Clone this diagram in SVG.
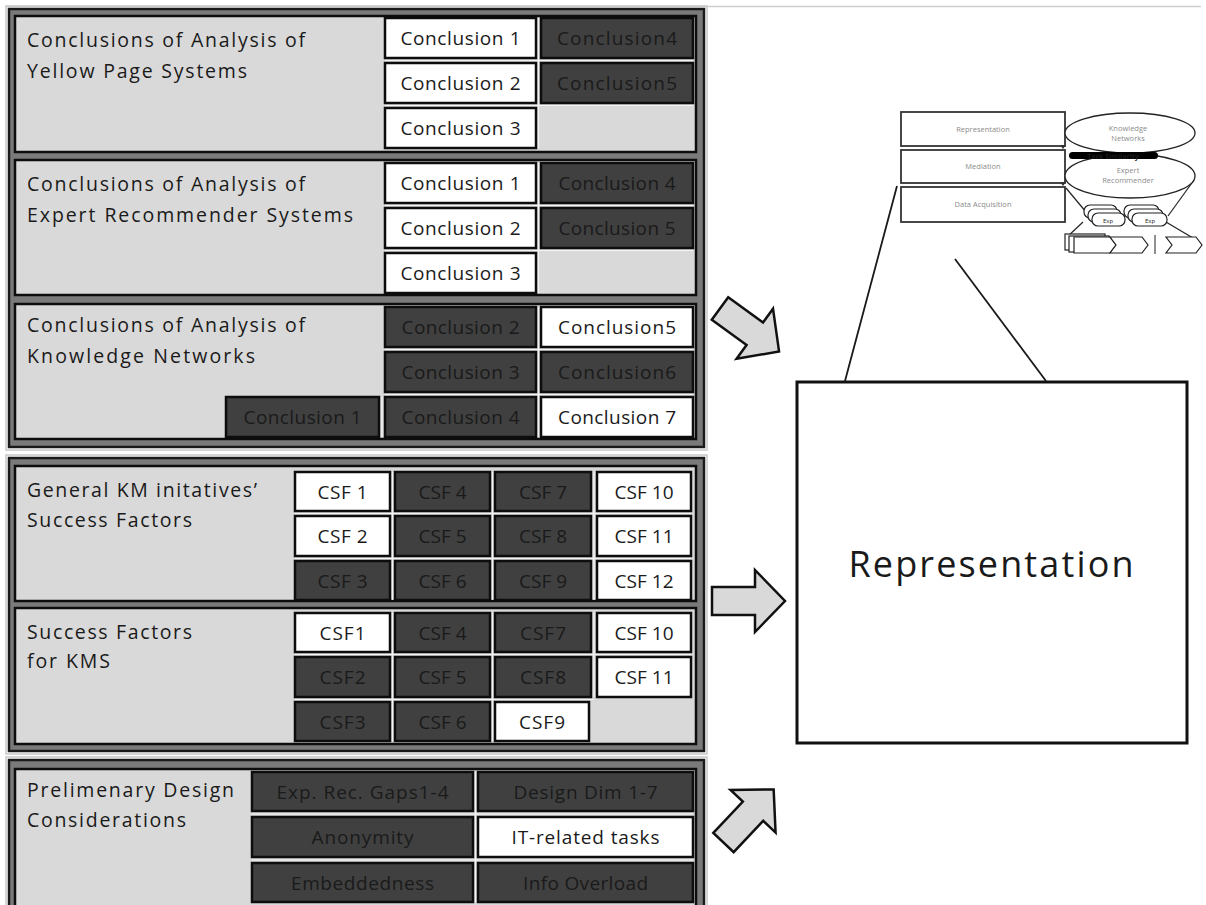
<svg xmlns="http://www.w3.org/2000/svg" width="1206" height="905" viewBox="0 0 1206 905">
  <style>
    .halo { fill: none; stroke: #c8c8c8; stroke-width: 1.5; }
    .frame { fill: #7a7a7a; stroke: #1a1a1a; stroke-width: 2.5; }
    .panel { fill: #d9d9d9; stroke: #0d0d0d; stroke-width: 2.5; }
    .grid { stroke: #f4f4f4; stroke-width: 1.2; fill: none; }
    .w { fill: #ffffff; stroke: #0d0d0d; stroke-width: 2.5; }
    .d { fill: #404040; stroke: #0d0d0d; stroke-width: 2.5; }
    text { font-family: "Open Sans", "Noto Sans", "Liberation Sans", sans-serif; fill: #1a1a1a; font-variant-ligatures: none; }
    .ttl { font-size: 19.5px; }
    .bx { font-size: 19px; text-anchor: middle; }
    .big { font-size: 36px; text-anchor: middle; fill: #1a1a1a; }
    .arrow { fill: #d9d9d9; stroke: #111111; stroke-width: 2.5; stroke-linejoin: miter; }
    .tb { fill: #ffffff; stroke: #333333; stroke-width: 1.8; }
    .tt { font-size: 7.5px; text-anchor: middle; fill: #8c8c8c; }
    .el { fill: #ffffff; stroke: #222222; stroke-width: 1.3; }
    .thin { stroke: #222222; stroke-width: 1.2; fill: none; }
    .lead { stroke: #1a1a1a; stroke-width: 1.8; fill: none; }
  </style>
  <defs>
    <path id="blockArrow" d="M0,-14 H43 V-31 L73,0 L43,31 V14 H0 Z"/>
  </defs>

  <!-- hairline along the top edge -->
  <line x1="6" y1="6.5" x2="1201" y2="6.5" stroke="#d0d0d0" stroke-width="1.5"/>

  <!-- ============ Frame 1: conclusions of the three analyses ============ -->
  <g id="frame-conclusions">
    <rect class="halo" x="6" y="6" width="701" height="444"/>
    <rect class="frame" x="9" y="9" width="695" height="438"/>
  </g>

  <g id="yellow-pages">
    <rect class="panel" x="15" y="16" width="681" height="136"/>
    <path class="grid" d="M538.5,18 V148 M385,60.5 H693 M385,105.5 H693"/>
    <text class="ttl" x="27" y="47" textLength="278" lengthAdjust="spacing">Conclusions of Analysis of</text>
    <text class="ttl" x="27" y="78" textLength="220" lengthAdjust="spacing">Yellow Page Systems</text>
    <rect class="w" x="385" y="18" width="151" height="40"/>
    <text class="bx" x="460.5" y="45" textLength="120" lengthAdjust="spacing">Conclusion 1</text>
    <rect class="w" x="385" y="63" width="151" height="40"/>
    <text class="bx" x="460.5" y="90" textLength="120" lengthAdjust="spacing">Conclusion 2</text>
    <rect class="w" x="385" y="108" width="151" height="40"/>
    <text class="bx" x="460.5" y="135" textLength="120" lengthAdjust="spacing">Conclusion 3</text>
    <rect class="d" x="541" y="18" width="152" height="40"/>
    <text class="bx" x="617" y="45" textLength="120" lengthAdjust="spacing">Conclusion4</text>
    <rect class="d" x="541" y="63" width="152" height="40"/>
    <text class="bx" x="617" y="90" textLength="120" lengthAdjust="spacing">Conclusion5</text>
  </g>

  <g id="expert-recommenders">
    <rect class="panel" x="15" y="160" width="681" height="135"/>
    <path class="grid" d="M538.5,163 V293 M385,205.5 H693 M385,250.5 H693"/>
    <text class="ttl" x="27" y="191" textLength="278" lengthAdjust="spacing">Conclusions of Analysis of</text>
    <text class="ttl" x="27" y="222" textLength="326" lengthAdjust="spacing">Expert Recommender Systems</text>
    <rect class="w" x="385" y="163" width="151" height="40"/>
    <text class="bx" x="460.5" y="190" textLength="120" lengthAdjust="spacing">Conclusion 1</text>
    <rect class="w" x="385" y="208" width="151" height="40"/>
    <text class="bx" x="460.5" y="235" textLength="120" lengthAdjust="spacing">Conclusion 2</text>
    <rect class="w" x="385" y="253" width="151" height="40"/>
    <text class="bx" x="460.5" y="280" textLength="120" lengthAdjust="spacing">Conclusion 3</text>
    <rect class="d" x="541" y="163" width="152" height="40"/>
    <text class="bx" x="617" y="190" textLength="117" lengthAdjust="spacing">Conclusion 4</text>
    <rect class="d" x="541" y="208" width="152" height="40"/>
    <text class="bx" x="617" y="235" textLength="117" lengthAdjust="spacing">Conclusion 5</text>
  </g>

  <g id="knowledge-networks">
    <rect class="panel" x="15" y="304" width="681" height="135"/>
    <path class="grid" d="M382,397 V437 M538.5,307 V437 M385,349.5 H693 M385,394.5 H693"/>
    <text class="ttl" x="27" y="332" textLength="278" lengthAdjust="spacing">Conclusions of Analysis of</text>
    <text class="ttl" x="27" y="363" textLength="228" lengthAdjust="spacing">Knowledge Networks</text>
    <rect class="d" x="226" y="397" width="153" height="40"/>
    <text class="bx" x="302.5" y="424" textLength="118" lengthAdjust="spacing">Conclusion 1</text>
    <rect class="d" x="385" y="307" width="151" height="40"/>
    <text class="bx" x="460.5" y="334" textLength="118" lengthAdjust="spacing">Conclusion 2</text>
    <rect class="d" x="385" y="352" width="151" height="40"/>
    <text class="bx" x="460.5" y="379" textLength="118" lengthAdjust="spacing">Conclusion 3</text>
    <rect class="d" x="385" y="397" width="151" height="40"/>
    <text class="bx" x="460.5" y="424" textLength="118" lengthAdjust="spacing">Conclusion 4</text>
    <rect class="w" x="541" y="307" width="152" height="40"/>
    <text class="bx" x="617" y="334" textLength="118" lengthAdjust="spacing">Conclusion5</text>
    <rect class="d" x="541" y="352" width="152" height="40"/>
    <text class="bx" x="617" y="379" textLength="118" lengthAdjust="spacing">Conclusion6</text>
    <rect class="w" x="541" y="397" width="152" height="40"/>
    <text class="bx" x="617" y="424" textLength="118" lengthAdjust="spacing">Conclusion 7</text>
  </g>

  <!-- ============ Frame 2: critical success factors ============ -->
  <g id="frame-csf">
    <rect class="halo" x="6" y="455" width="701" height="299"/>
    <rect class="frame" x="9" y="458" width="695" height="293"/>
  </g>

  <g id="km-initiatives">
    <rect class="panel" x="15" y="466" width="681" height="135"/>
    <path class="grid" d="M392.5,472 V600 M492.5,472 V600 M594,472 V600 M295,513.5 H691 M295,558.5 H691"/>
    <text class="ttl" x="27" y="497" textLength="230" lengthAdjust="spacing">General KM initatives’</text>
    <text class="ttl" x="27" y="527" textLength="165" lengthAdjust="spacing">Success Factors</text>
    <rect class="w" x="295" y="472" width="95" height="39"/>
    <text class="bx" x="342.5" y="498.5" textLength="50" lengthAdjust="spacing">CSF 1</text>
    <rect class="w" x="295" y="516" width="95" height="40"/>
    <text class="bx" x="342.5" y="543" textLength="50" lengthAdjust="spacing">CSF 2</text>
    <rect class="d" x="295" y="561" width="95" height="39"/>
    <text class="bx" x="342.5" y="587.5" textLength="50" lengthAdjust="spacing">CSF 3</text>
    <rect class="d" x="395" y="472" width="95" height="39"/>
    <text class="bx" x="442.5" y="498.5" textLength="48" lengthAdjust="spacing">CSF 4</text>
    <rect class="d" x="395" y="516" width="95" height="40"/>
    <text class="bx" x="442.5" y="543" textLength="48" lengthAdjust="spacing">CSF 5</text>
    <rect class="d" x="395" y="561" width="95" height="39"/>
    <text class="bx" x="442.5" y="587.5" textLength="48" lengthAdjust="spacing">CSF 6</text>
    <rect class="d" x="495" y="472" width="96" height="39"/>
    <text class="bx" x="543" y="498.5" textLength="48" lengthAdjust="spacing">CSF 7</text>
    <rect class="d" x="495" y="516" width="96" height="40"/>
    <text class="bx" x="543" y="543" textLength="48" lengthAdjust="spacing">CSF 8</text>
    <rect class="d" x="495" y="561" width="96" height="39"/>
    <text class="bx" x="543" y="587.5" textLength="48" lengthAdjust="spacing">CSF 9</text>
    <rect class="w" x="597" y="472" width="94" height="39"/>
    <text class="bx" x="644" y="498.5" textLength="59" lengthAdjust="spacing">CSF 10</text>
    <rect class="w" x="597" y="516" width="94" height="40"/>
    <text class="bx" x="644" y="543" textLength="59" lengthAdjust="spacing">CSF 11</text>
    <rect class="w" x="597" y="561" width="94" height="39"/>
    <text class="bx" x="644" y="587.5" textLength="59" lengthAdjust="spacing">CSF 12</text>
  </g>

  <g id="kms-factors">
    <rect class="panel" x="15" y="608" width="681" height="136"/>
    <path class="grid" d="M392.5,613 V741 M492.5,613 V741 M594,613 V697 M295,654.5 H691 M295,699.5 H594"/>
    <text class="ttl" x="27" y="639" textLength="165" lengthAdjust="spacing">Success Factors</text>
    <text class="ttl" x="27" y="668" textLength="83" lengthAdjust="spacing">for KMS</text>
    <rect class="w" x="295" y="613" width="95" height="39"/>
    <text class="bx" x="342.5" y="639.5" textLength="46" lengthAdjust="spacing">CSF1</text>
    <rect class="d" x="295" y="657" width="95" height="40"/>
    <text class="bx" x="342.5" y="684" textLength="46" lengthAdjust="spacing">CSF2</text>
    <rect class="d" x="295" y="702" width="95" height="39"/>
    <text class="bx" x="342.5" y="728.5" textLength="46" lengthAdjust="spacing">CSF3</text>
    <rect class="d" x="395" y="613" width="95" height="39"/>
    <text class="bx" x="442.5" y="639.5" textLength="48" lengthAdjust="spacing">CSF 4</text>
    <rect class="d" x="395" y="657" width="95" height="40"/>
    <text class="bx" x="442.5" y="684" textLength="48" lengthAdjust="spacing">CSF 5</text>
    <rect class="d" x="395" y="702" width="95" height="39"/>
    <text class="bx" x="442.5" y="728.5" textLength="48" lengthAdjust="spacing">CSF 6</text>
    <rect class="d" x="495" y="613" width="96" height="39"/>
    <text class="bx" x="543" y="639.5" textLength="46" lengthAdjust="spacing">CSF7</text>
    <rect class="d" x="495" y="657" width="96" height="40"/>
    <text class="bx" x="543" y="684" textLength="46" lengthAdjust="spacing">CSF8</text>
    <rect class="w" x="495" y="702" width="94" height="39"/>
    <text class="bx" x="542" y="728.5" textLength="46" lengthAdjust="spacing">CSF9</text>
    <rect class="w" x="597" y="613" width="94" height="39"/>
    <text class="bx" x="644" y="639.5" textLength="59" lengthAdjust="spacing">CSF 10</text>
    <rect class="w" x="597" y="657" width="94" height="40"/>
    <text class="bx" x="644" y="684" textLength="59" lengthAdjust="spacing">CSF 11</text>
  </g>

  <!-- ============ Frame 3: preliminary design considerations ============ -->
  <g id="frame-design">
    <rect class="halo" x="6" y="757" width="701" height="170"/>
    <rect class="frame" x="9" y="760" width="695" height="165"/>
  </g>

  <g id="design-considerations">
    <rect class="panel" x="15" y="769" width="681" height="150"/>
    <path class="grid" d="M475.5,772 V902 M252,814 H693 M252,860 H693"/>
    <text class="ttl" x="27" y="797" textLength="207" lengthAdjust="spacing">Prelimenary Design</text>
    <text class="ttl" x="27" y="827" textLength="159" lengthAdjust="spacing">Considerations</text>
    <rect class="d" x="252" y="772" width="221" height="39"/>
    <text class="bx" x="362.5" y="798.5" textLength="172" lengthAdjust="spacing">Exp. Rec.  Gaps1-4</text>
    <rect class="d" x="252" y="817" width="221" height="40"/>
    <text class="bx" x="362.5" y="844" textLength="102" lengthAdjust="spacing">Anonymity</text>
    <rect class="d" x="252" y="863" width="221" height="39"/>
    <text class="bx" x="362.5" y="889.5" textLength="143" lengthAdjust="spacing">Embeddedness</text>
    <rect class="d" x="478" y="772" width="215" height="39"/>
    <text class="bx" x="585.5" y="798.5" textLength="144" lengthAdjust="spacing">Design Dim 1-7</text>
    <rect class="w" x="478" y="817" width="215" height="40"/>
    <text class="bx" x="585.5" y="844" textLength="148" lengthAdjust="spacing">IT-related tasks</text>
    <rect class="d" x="478" y="863" width="215" height="39"/>
    <text class="bx" x="585.5" y="889.5" textLength="125" lengthAdjust="spacing">Info Overload</text>
  </g>

  <!-- ============ Target: representation layer ============ -->
  <g id="representation">
    <rect x="797" y="382" width="390" height="361" fill="#ffffff" stroke="#111111" stroke-width="3"/>
    <text class="big" x="991" y="577" textLength="285" lengthAdjust="spacing">Representation</text>
  </g>

  <!-- layered architecture sketch -->
  <g id="architecture-sketch">
    <rect class="tb" x="901" y="112" width="164" height="34"/>
    <text class="tt" x="983" y="132">Representation</text>
    <rect class="tb" x="901" y="150" width="164" height="33"/>
    <text class="tt" x="983" y="169">Mediation</text>
    <rect class="tb" x="901" y="187" width="164" height="35"/>
    <text class="tt" x="983" y="207">Data Acquisition</text>
    <path d="M1060,145 l6,0 l-3,4 Z M1060,182 l6,0 l-3,4 Z" fill="#333333"/>

    <!-- links from the lower ellipse to the stores and from the stores to the chain -->
    <line class="thin" x1="1066" y1="188" x2="1086" y2="212"/>
    <line class="thin" x1="1194" y1="180" x2="1168" y2="216"/>
    <line class="thin" x1="1083" y1="222" x2="1066" y2="238"/>
    <line class="thin" x1="1166" y1="222" x2="1198" y2="241"/>

    <ellipse class="el" cx="1130" cy="176" rx="65" ry="22"/>
    <text class="tt" x="1128" y="173">Expert</text>
    <text class="tt" x="1128" y="183">Recommender</text>
    <ellipse class="el" cx="1130" cy="133" rx="65" ry="20"/>
    <text class="tt" x="1128" y="131">Knowledge</text>
    <text class="tt" x="1128" y="141">Networks</text>
    <rect x="1069" y="152" width="89" height="7" rx="3.5" fill="#000000"/>
    <text x="1113" y="158.5" font-size="7" font-weight="bold" text-anchor="middle" fill="#ffffff">Task Similarity</text>

    <!-- stacked expert stores -->
    <g fill="#ffffff" stroke="#222222" stroke-width="1.2">
      <rect x="1084" y="205" width="33" height="13" rx="6"/>
      <rect x="1088" y="209" width="33" height="13" rx="6"/>
      <rect x="1092" y="213" width="33" height="13" rx="6"/>
      <rect x="1124" y="205" width="35" height="13" rx="6"/>
      <rect x="1128" y="209" width="35" height="13" rx="6"/>
      <rect x="1132" y="213" width="35" height="13" rx="6"/>
    </g>
    <text x="1108" y="223" font-size="6" text-anchor="middle" fill="#777777">Exp</text>
    <text x="1150" y="223" font-size="6" text-anchor="middle" fill="#777777">Exp</text>

    <!-- process chain -->
    <g fill="#ffffff" stroke="#222222" stroke-width="1.2">
      <rect x="1065" y="234" width="40" height="16"/>
      <rect x="1069" y="236" width="40" height="16"/>
      <path d="M1074,237 H1110 L1116,245 L1110,253 H1074 Z"/>
      <path d="M1110,237 H1142 L1148,245 L1142,253 H1110 L1116,245 Z"/>
      <path d="M1166,237 H1196 L1202,245 L1196,253 H1166 L1172,245 Z"/>
    </g>
    <line x1="1155" y1="235" x2="1155" y2="254" stroke="#222222" stroke-width="1"/>
  </g>

  <!-- ============ Connectors ============ -->
  <g id="connectors">
    <use href="#blockArrow" class="arrow" transform="translate(720,308.5) rotate(36)"/>
    <use href="#blockArrow" class="arrow" transform="translate(712,601)"/>
    <use href="#blockArrow" class="arrow" transform="translate(723.5,842.5) rotate(-46.6)"/>
    <line class="lead" x1="845" y1="381" x2="897" y2="186"/>
    <line class="lead" x1="1046" y1="381" x2="955" y2="259"/>
  </g>
</svg>
